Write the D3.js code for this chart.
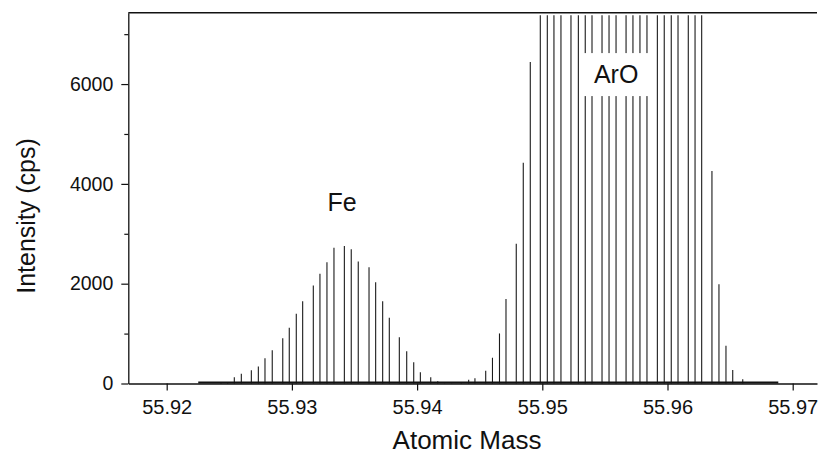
<!DOCTYPE html>
<html>
<head>
<meta charset="utf-8">
<script src="https://cdn.jsdelivr.net/npm/d3@7"></script>
<style>
  body { margin: 0; background: #fff; }
  svg text { font-family: "Liberation Sans", Arial, Helvetica, sans-serif; fill: #111; }
</style>
</head>
<body>
<svg id="chart" width="821" height="454"></svg>
<script>
const masses = [
  55.92252, 55.92434, 55.92487, 55.92540, 55.92596, 55.92676, 55.92732, 55.92785, 55.92843,
  55.92927, 55.92979, 55.93035, 55.93086, 55.93171, 55.93224, 55.93280, 55.93336,
  55.93419, 55.93474, 55.93530, 55.93616, 55.93669, 55.93725, 55.93778,
  55.93858, 55.93917, 55.93973, 55.94026, 55.94109, 55.94165, 55.94220, 55.94276,
  55.94353, 55.94412, 55.94462, 55.94548, 55.94602, 55.94658, 55.94710,
  55.94792, 55.94848, 55.94904, 55.94984, 55.95040, 55.95093, 55.95149,
  55.95229, 55.95288, 55.95343, 55.95397, 55.95477, 55.95533, 55.95589,
  55.95669, 55.95724, 55.95780, 55.95836, 55.95919, 55.95974, 55.96030, 55.96084,
  55.96166, 55.96220, 55.96273, 55.96355, 55.96411, 55.96467, 55.96521,
  55.96601, 55.96885
];
const counts = [
  0, 20, 30, 127, 193, 267, 340, 507, 667,
  908, 1116, 1397, 1649, 1964, 2198, 2431, 2719,
  2755, 2691, 2445, 2331, 2030, 1649, 1317,
  928, 647, 427, 226, 126, 46, 5, 5,
  10, 74, 106, 254, 516, 1003, 1693,
  2802, 4425, 6443, 8200, 9500, 10800, 11900,
  12800, 13400, 13900, 14200, 14300, 14200, 14000,
  13600, 13100, 12500, 11800, 10900, 10000, 9100, 8300,
  7900, 7700, 7500, 4259, 1988, 757, 270,
  84, 0
];

const xTicks = [55.92, 55.93, 55.94, 55.95, 55.96, 55.97];
const yTicks = [0, 2000, 4000, 6000];
const yMinorTicks = [1000, 3000, 5000, 7000];
const peakLabels = [
  { text: "Fe", mass: 55.93400, value: 3640 },
  { text: "ArO", mass: 55.95590, value: 6200 }
];

const svg = d3.select("#chart");
const plotLeft = 128.3, plotRight = 817, plotTop = 12.7, plotBottom = 383.5;

const x = d3.scaleLinear()
  .domain([55.92 - 38.4 / 12520, 55.97 + 24.3 / 12520])
  .range([plotLeft, plotRight]);
const y = d3.scaleLinear()
  .domain([0, 7430])
  .range([plotBottom, plotTop]);

const data = masses.map((m, i) => ({ m: m, v: counts[i] }));

// stems, clipped just under the frame
const clipTop = y(7380);
svg.append("g")
  .selectAll("line")
  .data(data.filter(d => d.v > 0))
  .enter()
  .append("line")
  .attr("x1", d => x(d.m))
  .attr("x2", d => x(d.m))
  .attr("y1", y(0))
  .attr("y2", d => Math.max(y(d.v), clipTop))
  .attr("stroke", "#1a1a1a")
  .attr("stroke-width", 1.1);

// thick data baseline
svg.append("line")
  .attr("x1", x(d3.min(masses)))
  .attr("x2", x(d3.max(masses)))
  .attr("y1", y(0) - 1)
  .attr("y2", y(0) - 1)
  .attr("stroke", "#111")
  .attr("stroke-width", 2.2);

// ArO label sits in a white box that breaks the stems
const aro = peakLabels[1];
svg.append("rect")
  .attr("x", x(aro.mass) - 35)
  .attr("y", y(aro.value) - 21)
  .attr("width", 70)
  .attr("height", 43)
  .attr("fill", "#fff");

svg.selectAll(".peak")
  .data(peakLabels)
  .enter()
  .append("text")
  .attr("class", "peak")
  .attr("x", d => x(d.mass))
  .attr("y", d => y(d.value))
  .attr("text-anchor", "middle")
  .attr("dominant-baseline", "central")
  .style("font-size", "25px")
  .text(d => d.text);

// axes
const xAxis = svg.append("g")
  .attr("transform", "translate(0," + plotBottom + ")")
  .call(d3.axisBottom(x).tickValues(xTicks).tickFormat(d3.format(".2f")).tickSize(7).tickPadding(9.5).tickSizeOuter(0));
xAxis.selectAll("text").style("font-size", "20px");

const yAxis = svg.append("g")
  .attr("transform", "translate(" + plotLeft + ",0)")
  .call(d3.axisLeft(y).tickValues(yTicks).tickFormat(d3.format("d")).tickSize(7).tickPadding(8).tickSizeOuter(0));
yAxis.selectAll("text").style("font-size", "19.5px");

svg.append("g")
  .attr("transform", "translate(" + plotLeft + ",0)")
  .call(d3.axisLeft(y).tickValues(yMinorTicks).tickFormat("").tickSize(4).tickSizeOuter(0))
  .select(".domain").remove();

svg.selectAll(".domain").attr("stroke", "#111").attr("stroke-width", 1.3);
svg.selectAll(".tick line").attr("stroke", "#111").attr("stroke-width", 1.2);

// top frame line
svg.append("line")
  .attr("x1", plotLeft)
  .attr("x2", plotRight)
  .attr("y1", plotTop)
  .attr("y2", plotTop)
  .attr("stroke", "#111")
  .attr("stroke-width", 1.5);

// axis titles
svg.append("text")
  .attr("x", 467)
  .attr("y", 449)
  .attr("text-anchor", "middle")
  .style("font-size", "26px")
  .text("Atomic Mass");

svg.append("text")
  .attr("transform", "translate(35,216) rotate(-90)")
  .attr("text-anchor", "middle")
  .style("font-size", "25px")
  .text("Intensity (cps)");
</script>
</body>
</html>
